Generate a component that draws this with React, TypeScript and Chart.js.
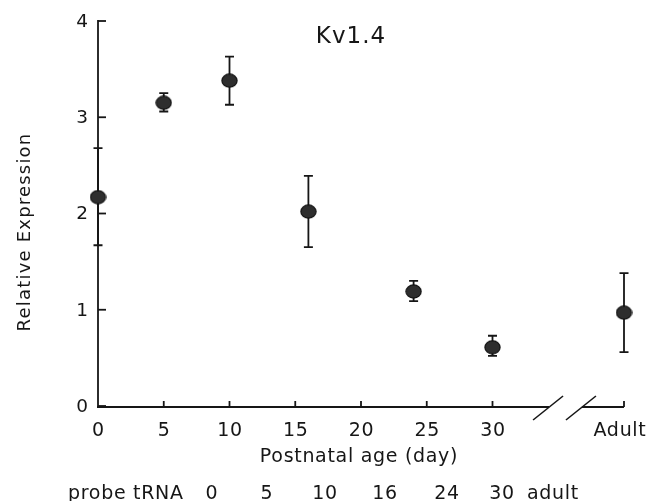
import React, { useEffect, useRef } from "react";
import { Chart, registerables } from "chart.js";

Chart.register(...registerables);

// ---- data ----
const probeLabels = ["0", "5", "10", "16", "24", "30", "adult"];
const agePositions = [0, 5, 10, 16, 24, 30, 40];
const means = [2.17, 3.15, 3.38, 2.02, 1.19, 0.61, 0.97];
const errUp = [0.51, 0.1, 0.25, 0.37, 0.11, 0.12, 0.41];
const errDown = [0.5, 0.09, 0.25, 0.37, 0.1, 0.09, 0.41];
const yTicks = [0, 1, 2, 3, 4];
const xTicks = [0, 5, 10, 15, 20, 25, 30];
const adultTick = { value: 40, label: "Adult" };
const axisBreak = [34.3, 36.8];
const titleText = "Kv1.4";
const xTitle = "Postnatal age (day)";
const yTitle = "Relative Expression";
const probeTitle = "probe tRNA";

const INK = "#161616";
const FONT = '"DejaVu Sans", sans-serif';

function makeMarker(): HTMLCanvasElement {
  const c = document.createElement("canvas");
  c.width = 17;
  c.height = 15;
  const g = c.getContext("2d")!;
  g.beginPath();
  g.ellipse(8.5, 7.5, 7.6, 6.6, 0, 0, Math.PI * 2);
  g.fillStyle = "#2e2e2e";
  g.fill();
  g.lineWidth = 1.2;
  g.strokeStyle = "#111";
  g.stroke();
  return c;
}

const decorPlugin = {
  id: "decor",
  beforeDatasetsDraw(chart: any) {
    const ctx = chart.ctx as CanvasRenderingContext2D;
    const xs = chart.scales.x;
    const ys = chart.scales.y;
    const y0 = ys.getPixelForValue(0);
    const x0 = xs.getPixelForValue(0);
    ctx.save();
    ctx.strokeStyle = INK;
    ctx.fillStyle = INK;
    ctx.lineWidth = 1.8;
    ctx.lineCap = "butt";

    // y axis
    ctx.beginPath();
    ctx.moveTo(x0, ys.getPixelForValue(4) - 1);
    ctx.lineTo(x0, y0);
    ctx.stroke();
    yTicks.forEach((v) => {
      const py = ys.getPixelForValue(v);
      ctx.beginPath();
      ctx.moveTo(x0, py);
      ctx.lineTo(x0 + 8, py);
      ctx.stroke();
    });

    // x axis with break
    const b1 = xs.getPixelForValue(axisBreak[0]);
    const b2 = xs.getPixelForValue(axisBreak[1]);
    const xa = xs.getPixelForValue(adultTick.value);
    const yAx = y0 + 1;
    ctx.beginPath();
    ctx.moveTo(x0 - 1, yAx);
    ctx.lineTo(b1, yAx);
    ctx.moveTo(b2, yAx);
    ctx.lineTo(xa, yAx);
    ctx.stroke();
    [...xTicks, adultTick.value].forEach((v) => {
      const px = xs.getPixelForValue(v);
      if (v === 0) return;
      ctx.beginPath();
      ctx.moveTo(px, yAx);
      ctx.lineTo(px, yAx - 6);
      ctx.stroke();
    });
    ctx.lineWidth = 1.6;
    [b1, b2].forEach((bx) => {
      ctx.beginPath();
      ctx.moveTo(bx - 16, yAx + 13);
      ctx.lineTo(bx + 14, yAx - 11);
      ctx.stroke();
    });

    // error bars
    ctx.lineWidth = 1.8;
    agePositions.forEach((a, i) => {
      const px = xs.getPixelForValue(a);
      const top = ys.getPixelForValue(means[i] + errUp[i]);
      const bot = ys.getPixelForValue(means[i] - errDown[i]);
      ctx.beginPath();
      ctx.moveTo(px, top);
      ctx.lineTo(px, bot);
      ctx.moveTo(px - 4.5, top);
      ctx.lineTo(px + 4.5, top);
      ctx.moveTo(px - 4.5, bot);
      ctx.lineTo(px + 4.5, bot);
      ctx.stroke();
    });

    // texts
    ctx.font = `18.5px ${FONT}`;
    (ctx as any).letterSpacing = "0px";
    ctx.textAlign = "right";
    ctx.textBaseline = "middle";
    yTicks.forEach((v) => {
      ctx.fillText(String(v), x0 - 10, ys.getPixelForValue(v) + 1);
    });

    ctx.font = `19px ${FONT}`;
    (ctx as any).letterSpacing = "0.7px";
    ctx.textAlign = "center";
    ctx.textBaseline = "alphabetic";
    xTicks.forEach((v) => {
      ctx.fillText(String(v), xs.getPixelForValue(v) + 0.5, y0 + 30);
    });
    ctx.fillText(adultTick.label, xa - 4, y0 + 30);

    ctx.fillText(xTitle, 359, y0 + 56);

    // probe row
    ctx.textAlign = "left";
    ctx.fillText(probeTitle, 68, 499);
    const probeX = [212, 267, 325, 385, 447, 502, 553];
    ctx.textAlign = "center";
    probeLabels.forEach((l, i) => ctx.fillText(l, probeX[i], 499));

    // y title
    ctx.save();
    ctx.translate(30, 232);
    ctx.rotate(-Math.PI / 2);
    ctx.font = `18px ${FONT}`;
    (ctx as any).letterSpacing = "1.2px";
    ctx.textAlign = "center";
    ctx.fillText(yTitle, 0, 0);
    ctx.restore();

    // chart title
    ctx.font = `23px ${FONT}`;
    (ctx as any).letterSpacing = "1px";
    ctx.textAlign = "center";
    ctx.fillText(titleText, 351, 43);

    ctx.restore();
  },
};

export default function App() {
  const ref = useRef<HTMLCanvasElement>(null);
  useEffect(() => {
    if (!ref.current) return;
    const marker = makeMarker();
    const chart = new Chart(ref.current, {
      type: "scatter",
      data: {
        datasets: [
          {
            data: agePositions.map((a, i) => ({ x: a, y: means[i] })),
            pointStyle: marker as any,
            pointRadius: 8,
            backgroundColor: "#2e2e2e",
            borderColor: "#111",
            clip: false as any,
          },
        ],
      },
      options: {
        animation: false,
        responsive: false,
        events: [],
        layout: { padding: { left: 98, right: 28, top: 21, bottom: 95 } },
        plugins: { legend: { display: false }, tooltip: { enabled: false } },
        scales: {
          x: { type: "linear", min: 0, max: 40, display: false },
          y: { type: "linear", min: 0, max: 4, display: false },
        },
      },
      plugins: [decorPlugin],
    });
    return () => chart.destroy();
  }, []);
  return (
    <div style={{ position: "fixed", left: 0, top: 0, width: 652, height: 501, background: "#fff" }}>
      <canvas ref={ref} width={652} height={501} style={{ width: 652, height: 501, display: "block" }} />
    </div>
  );
}
